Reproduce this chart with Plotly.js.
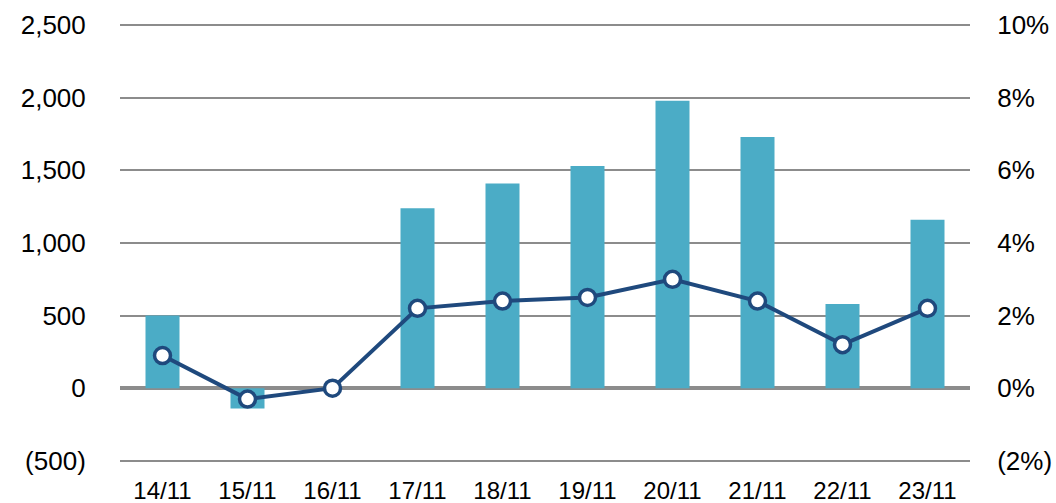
<!DOCTYPE html>
<html>
<head>
<meta charset="utf-8">
<script src="https://cdn.plot.ly/plotly-3.0.1.min.js"></script>
<style>
html,body{margin:0;padding:0;background:#fff;}
#chart{width:1056px;height:503px;}
</style>
</head>
<body>
<div id="chart"></div>
<script>
var categories = ["14/11","15/11","16/11","17/11","18/11","19/11","20/11","21/11","22/11","23/11"];
var barValues = [500, -140, 0, 1240, 1410, 1530, 1980, 1730, 580, 1160];
var lineValues = [0.9, -0.3, 0.0, 2.2, 2.4, 2.5, 3.0, 2.4, 1.2, 2.2];
var leftTickVals = [-500, 0, 500, 1000, 1500, 2000, 2500];
var leftTickText = ["(500)", "0", "500", "1,000", "1,500", "2,000", "2,500"];
var rightTickVals = [-2, 0, 2, 4, 6, 8, 10];
var rightTickText = ["(2%)", "0%", "2%", "4%", "6%", "8%", "10%"];

var font = "Arial, 'Liberation Sans', sans-serif";

var traces = [
  {
    type: "bar",
    x: categories,
    y: barValues,
    marker: {color: "#4BACC6"},
    width: 0.4,
    yaxis: "y",
    hoverinfo: "x+y"
  },
  {
    type: "scatter",
    mode: "lines+markers",
    x: categories,
    y: lineValues,
    yaxis: "y2",
    line: {color: "#1F497D", width: 4},
    marker: {size: 16, color: "#ffffff", line: {color: "#1F497D", width: 3.5}},
    cliponaxis: false
  }
];

var layout = {
  width: 1056,
  height: 503,
  margin: {l: 120, r: 86, t: 23, b: 40},
  paper_bgcolor: "#ffffff",
  plot_bgcolor: "#ffffff",
  showlegend: false,
  font: {family: font, size: 26, color: "#000000"},
  xaxis: {
    type: "category",
    range: [-0.5, 9.5],
    showgrid: false,
    showline: false,
    zeroline: false,
    ticks: "outside",
    ticklen: 6,
    tickcolor: "rgba(0,0,0,0)",
    tickfont: {family: font, size: 24, color: "#000"}
  },
  yaxis: {
    range: [-515, 2515],
    tickvals: leftTickVals,
    ticktext: leftTickText,
    showgrid: true,
    gridcolor: "#8c8c8c",
    gridwidth: 2,
    zeroline: true,
    zerolinecolor: "#8c8c8c",
    zerolinewidth: 4,
    showline: false,
    ticks: "outside",
    ticklen: 28,
    tickcolor: "rgba(0,0,0,0)",
    tickfont: {family: font, size: 26, color: "#000"}
  },
  yaxis2: {
    overlaying: "y",
    side: "right",
    range: [-2.06, 10.06],
    tickvals: rightTickVals,
    ticktext: rightTickText,
    showgrid: false,
    zeroline: false,
    showline: false,
    ticks: "outside",
    ticklen: 21,
    tickcolor: "rgba(0,0,0,0)",
    tickfont: {family: font, size: 26, color: "#000"}
  }
};

Plotly.newPlot("chart", traces, layout, {staticPlot: true, displayModeBar: false});
</script>
</body>
</html>
